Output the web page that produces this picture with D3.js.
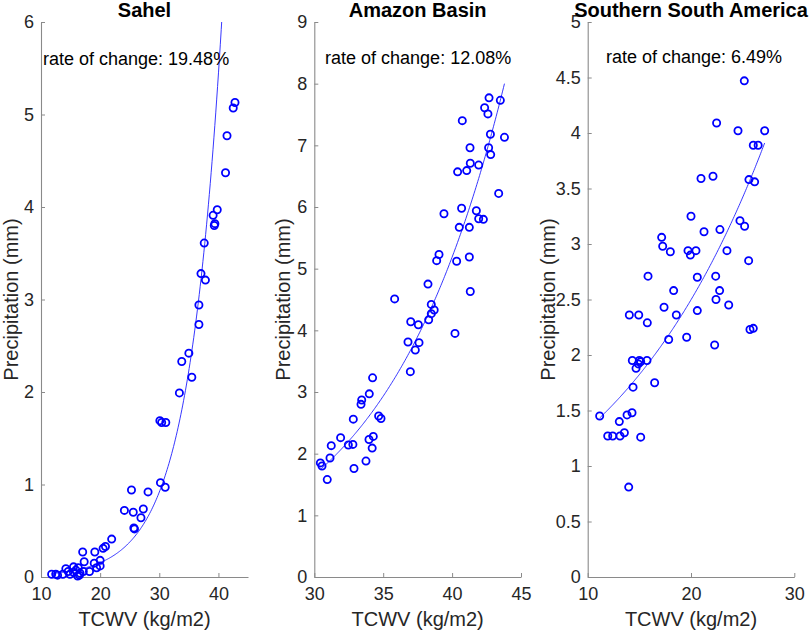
<!DOCTYPE html>
<html>
<head>
<meta charset="utf-8">
<script src="https://cdn.jsdelivr.net/npm/d3@7"></script>
<style>
  body { margin: 0; background: #fff; }
  svg { display: block; font-family: "Liberation Sans", Arial, sans-serif; }
</style>
</head>
<body>
<div id="chart"></div>
<script>
// panel titles and fit rates (rate of change, %)
const regions = ["Sahel", "Amazon Basin", "Southern South America"];
const rates = [19.48, 12.08, 6.49];

const fitRefX = [40.55, 43.8, 27.13];
const fitRefY = [6, 8.0, 3.91];

// axis domains and ticks
const xDomains = [[10, 45], [30, 45], [10, 30]];
const yDomains = [[0, 6], [0, 9], [0, 5]];
const xTicks = [[10, 20, 30, 40], [30, 35, 40, 45], [10, 20, 30]];
const yTicks = [
    [0, 1, 2, 3, 4, 5, 6],
    [0, 1, 2, 3, 4, 5, 6, 7, 8, 9],
    [0, 0.5, 1, 1.5, 2, 2.5, 3, 3.5, 4, 4.5, 5]
];

// where the "rate of change" text sits, in data units
const rateTextX = [10.34, 30.78, 11.77];
const rateTextY = [5.535, 8.32, 4.63];

// Sahel
const sahelTcwv = [42.8, 42.5, 41.45, 41.2, 39.8, 39.1, 39.4, 39.3, 37.6, 37.05, 37.8, 36.7,
    36.7, 35.0, 33.8, 35.5, 33.4, 30.1, 30.4, 31.1, 30.2, 31.0, 25.3, 28.1, 24.1, 25.6, 27.3,
    26.9, 25.7, 25.8, 21.95, 20.9, 20.5, 17.05, 19.1, 20.0, 17.3, 19.0, 20.0, 19.4, 18.2, 15.5,
    14.2, 16.3, 14.6, 15.5, 15.9, 16.5, 16.6, 17.15, 11.8, 12.5, 12.8, 13.7, 14.9, 16.2];
const sahelPrecip = [5.13, 5.07, 4.77, 4.37, 3.97, 3.91, 3.82, 3.80, 3.61, 3.28, 3.21, 2.94,
    2.73, 2.42, 2.33, 2.16, 1.99, 1.69, 1.67, 1.67, 1.02, 0.97, 0.94, 0.92, 0.72, 0.70, 0.735,
    0.64, 0.53, 0.52, 0.41, 0.33, 0.31, 0.27, 0.27, 0.18, 0.165, 0.15, 0.12, 0.10, 0.06, 0.11,
    0.09, 0.10, 0.06, 0.05, 0.075, 0.02, 0.04, 0.06, 0.03, 0.03, 0.02, 0.03, 0.03, 0.01];

// Amazon Basin
const amazonTcwv = [42.68, 43.5, 42.36, 42.6, 40.74, 42.78, 43.8, 41.3, 42.65, 42.8, 41.32,
    41.93, 41.06, 40.4, 43.38, 39.41, 40.69, 41.76, 41.93, 42.27, 40.52, 41.25, 39.05, 38.88,
    40.33, 41.25, 41.32, 38.25, 35.83, 38.49, 38.7, 38.49, 38.3, 37.0, 37.55, 40.21, 36.8, 37.6,
    37.33, 36.97, 34.23, 33.99, 33.44, 33.39, 32.83, 34.67, 34.84, 31.91, 34.28, 33.97, 31.23,
    32.47, 32.8, 34.2, 31.14, 30.44, 30.56, 33.75, 32.88, 30.94];
const amazonPrecip = [7.77, 7.73, 7.61, 7.51, 7.40, 7.18, 7.13, 6.96, 6.96, 6.85, 6.71, 6.68,
    6.59, 6.57, 6.22, 5.89, 5.98, 5.94, 5.81, 5.80, 5.67, 5.67, 5.23, 5.13, 5.12, 5.19, 4.63,
    4.75, 4.51, 4.42, 4.33, 4.27, 4.17, 4.14, 4.09, 3.95, 3.81, 3.80, 3.68, 3.33, 3.23, 2.97,
    2.87, 2.80, 2.56, 2.61, 2.57, 2.26, 2.28, 2.23, 2.13, 2.14, 2.15, 2.09, 1.93, 1.85, 1.80,
    1.88, 1.76, 1.58];

// Southern South America
const ssaTcwv = [25.16, 22.48, 24.55, 27.13, 26.03, 26.5, 22.13, 20.97, 25.61, 26.16, 20.0,
    24.74, 25.19, 22.8, 21.26, 17.16, 17.26, 18.0, 19.71, 20.48, 19.94, 23.48, 25.58, 15.84,
    20.61, 22.39, 18.32, 22.77, 22.42, 17.39, 23.65, 20.61, 14.03, 14.94, 18.58, 15.77, 17.84,
    19.58, 22.29, 25.71, 26.03, 14.32, 15.0, 15.13, 15.74, 14.9, 14.68, 16.48, 14.39, 11.16,
    13.06, 13.81, 14.29, 13.55, 11.94, 12.42, 13.13, 15.13, 13.97];
const ssaPrecip = [4.47, 4.09, 4.02, 4.02, 3.89, 3.89, 3.61, 3.59, 3.58, 3.56, 3.25, 3.21,
    3.16, 3.13, 3.11, 3.06, 2.98, 2.93, 2.94, 2.94, 2.90, 2.94, 2.85, 2.71, 2.70, 2.71, 2.58,
    2.58, 2.50, 2.43, 2.45, 2.40, 2.36, 2.36, 2.36, 2.29, 2.14, 2.16, 2.09, 2.23, 2.24, 1.95,
    1.95, 1.94, 1.95, 1.92, 1.88, 1.75, 1.71, 1.45, 1.40, 1.46, 1.48, 1.30, 1.27, 1.27, 1.27,
    1.26, 0.81];

const tcwvSets = [sahelTcwv, amazonTcwv, ssaTcwv];
const precipSets = [sahelPrecip, amazonPrecip, ssaPrecip];

// layout of the three axes boxes (pixels)
const width = 809, height = 633;
const axLeft = [41, 314.3, 587.7];
const axRight = [248, 521, 794.3];
const axTop = 22, axBottom = 577;
const yLabelX = [17.5, 289.5, 555];

const svg = d3.select("#chart").append("svg")
    .attr("width", width)
    .attr("height", height);

regions.forEach((region, i) => drawPanel(region, i));

function drawPanel(region, i) {
    const xscale = d3.scaleLinear().domain(xDomains[i]).range([axLeft[i], axRight[i]]);
    const yscale = d3.scaleLinear().domain(yDomains[i]).range([axBottom, axTop]);
    const g = svg.append("g");

    const fmt = d => String(d);

    const xaxis = d3.axisBottom(xscale).tickValues(xTicks[i]).tickFormat(fmt)
        .tickSizeInner(-4).tickSizeOuter(0).tickPadding(10);
    const yaxis = d3.axisLeft(yscale).tickValues(yTicks[i]).tickFormat(fmt)
        .tickSizeInner(-4).tickSizeOuter(0).tickPadding(7);

    const gx = g.append("g")
        .attr("transform", `translate(0, ${axBottom})`)
        .call(xaxis);
    const gy = g.append("g")
        .attr("transform", `translate(${axLeft[i]}, 0)`)
        .call(yaxis);

    [gx, gy].forEach(ax => {
        ax.select(".domain").attr("stroke", "#8a8a8a").attr("stroke-width", 1.1);
        ax.selectAll(".tick line").attr("stroke", "#8a8a8a");
        ax.selectAll(".tick text")
            .attr("fill", "#262626")
            .style("font-size", "18px")
            .style("font-family", "Liberation Sans, Arial, sans-serif");
    });

    // title
    g.append("text")
        .attr("x", (axLeft[i] + axRight[i]) / 2)
        .attr("y", 17)
        .attr("text-anchor", "middle")
        .style("font-size", "20px")
        .style("font-weight", "bold")
        .attr("fill", "#000")
        .text(region);

    // axis labels
    g.append("text")
        .attr("x", (axLeft[i] + axRight[i]) / 2)
        .attr("y", 626)
        .attr("text-anchor", "middle")
        .style("font-size", "20px")
        .attr("fill", "#262626")
        .text("TCWV (kg/m2)");

    g.append("text")
        .attr("transform", `translate(${yLabelX[i]}, ${(axTop + axBottom) / 2}) rotate(-90)`)
        .attr("text-anchor", "middle")
        .style("font-size", "20px")
        .attr("fill", "#262626")
        .text("Precipitation (mm)");

    // fitted curve, clipped to the axes box
    const clipId = "clip" + i;
    svg.append("clipPath").attr("id", clipId)
        .append("rect")
        .attr("x", axLeft[i]).attr("y", axTop)
        .attr("width", axRight[i] - axLeft[i])
        .attr("height", axBottom - axTop);

    const xs = tcwvSets[i];
    const xmin = d3.min(xs), xmax = d3.max(xs);
    const growth = 1 + rates[i] / 100;
    const fitPts = d3.range(0, 201).map(k => {
        const x = xmin + (xmax - xmin) * k / 200;
        return [x, fitRefY[i] * Math.pow(growth, x - fitRefX[i])];
    });

    g.append("path")
        .datum(fitPts)
        .attr("clip-path", `url(#${clipId})`)
        .attr("fill", "none")
        .attr("stroke", "#2020ff")
        .attr("stroke-width", 0.9)
        .attr("d", d3.line().x(d => xscale(d[0])).y(d => yscale(d[1])));

    // scatter
    const pts = xs.map((x, k) => ({ tcwv: x, precip: precipSets[i][k] }));
    g.selectAll("circle.pt")
        .data(pts)
        .enter()
        .append("circle")
        .attr("class", "pt")
        .attr("cx", d => xscale(d.tcwv))
        .attr("cy", d => yscale(d.precip))
        .attr("r", 3.6)
        .attr("fill", "none")
        .attr("stroke", "#0000ff")
        .attr("stroke-width", 1.8);

    // rate label
    g.append("text")
        .attr("x", xscale(rateTextX[i]))
        .attr("y", yscale(rateTextY[i]))
        .style("font-size", "18px")
        .attr("fill", "#000")
        .text(`rate of change: ${rates[i].toFixed(2)}%`);
}
</script>
</body>
</html>
